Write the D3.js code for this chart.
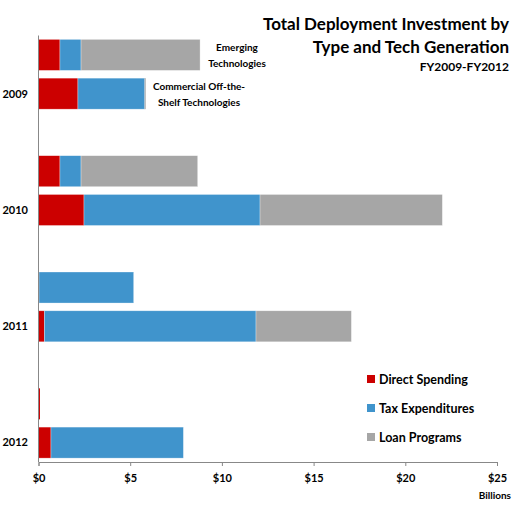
<!DOCTYPE html>
<html>
<head>
<meta charset="utf-8">
<script src="https://cdn.jsdelivr.net/npm/d3@7"></script>
<style>
  body { margin: 0; background: #fff; }
  text { font-family: Lato, "Open Sans", sans-serif; font-weight: bold; fill: #000; }
</style>
</head>
<body>
<div id="chart"></div>
<script>
// rows of the chart, top to bottom (blank rows separate the years)
const rows = ["2009E", "2009C", "gap1", "2010E", "2010C", "gap2", "2011E", "2011C", "gap3", "2012E", "2012C"];
const yearLabels = [["2009C", "2009"], ["2010C", "2010"], ["2011C", "2011"], ["2012C", "2012"]];
const seriesNames = ["Direct Spending", "Tax Expenditures", "Loan Programs"];
const seriesColors = ["#CC0000", "#4094CC", "#A6A6A6"];

// values in billions, one per bar row
const directSpending  = [1.17, 2.15, 1.17, 2.48, 0.03, 0.32, 0.08, 0.68];
const taxExpenditures = [1.15, 3.64, 1.15, 9.60, 5.16, 11.54, 0, 7.22];
const loanPrograms    = [6.49, 0.04, 6.36, 9.94, 0, 5.20, 0, 0];
const barRows = ["2009E", "2009C", "2010E", "2010C", "2011E", "2011C", "2012E", "2012C"];

const xTicks = [0, 5, 10, 15, 20, 25];

const width = 520, height = 511;
const x0 = 38.5, x1 = 497, yTop = 35.5, yBottom = 462;

const svg = d3.select("#chart").append("svg")
    .attr("width", width)
    .attr("height", height);

const x = d3.scaleLinear().domain([0, 25]).range([x0, x1]);
const y = d3.scaleBand().domain(rows).range([yTop, yBottom])
    .paddingInner(0.2).paddingOuter(0.1);

// build stacked data
const table = barRows.map((r, i) => ({
    row: r,
    "Direct Spending": directSpending[i],
    "Tax Expenditures": taxExpenditures[i],
    "Loan Programs": loanPrograms[i]
}));
const stacked = d3.stack().keys(seriesNames)(table);

svg.append("g")
    .selectAll("g")
    .data(stacked)
    .enter().append("g")
    .attr("fill", (d, i) => seriesColors[i])
    .selectAll("rect")
    .data(d => d.filter(s => s[1] - s[0] > 0))
    .enter().append("rect")
    .attr("x", d => x(d[0]))
    .attr("y", d => y(d.data.row))
    .attr("width", d => Math.max(1, x(d[1]) - x(d[0])))
    .attr("height", y.bandwidth())
    .attr("stroke", d => (x(d[1]) - x(d[0]) > 3 ? "#fff" : "none"))
    .attr("stroke-opacity", 0.5)
    .attr("stroke-width", 0.6);

// x axis
const xAxis = svg.append("g")
    .attr("transform", `translate(0,${yBottom})`)
    .call(d3.axisBottom(x).tickValues(xTicks).tickSize(4).tickFormat(d => "$" + d));
xAxis.select(".domain").attr("stroke", "#888");
xAxis.selectAll(".tick line").attr("stroke", "#888");
xAxis.selectAll(".tick text")
    .attr("font-size", 11)
    .attr("font-family", "Lato, sans-serif")
    .attr("font-weight", "bold")
    .attr("fill", "#000")
    .attr("dy", "1.2em");

// y axis line
svg.append("line")
    .attr("x1", x0).attr("x2", x0)
    .attr("y1", yTop).attr("y2", yBottom)
    .attr("stroke", "#888");

// year labels
svg.append("g")
    .selectAll("text")
    .data(yearLabels)
    .enter().append("text")
    .attr("x", 28)
    .attr("y", d => y(d[0]) + y.bandwidth() / 2)
    .attr("dy", "0.35em")
    .attr("text-anchor", "end")
    .attr("font-size", 11)
    .text(d => d[1]);

// bar annotations
const notes = [
    { row: "2009E", lines: ["Emerging", "Technologies"], cx: 237 },
    { row: "2009C", lines: ["Commercial Off-the-", "Shelf Technologies"], cx: 199 }
];
notes.forEach(n => {
    const t = svg.append("text")
        .attr("x", n.cx)
        .attr("y", y(n.row) + y.bandwidth() / 2 - 4)
        .attr("text-anchor", "middle")
        .attr("font-size", 10);
    n.lines.forEach((l, i) => {
        t.append("tspan").attr("x", n.cx).attr("dy", i === 0 ? 0 : 16.5).text(l);
    });
});

// title
const title = svg.append("text")
    .attr("text-anchor", "end")
    .attr("font-size", 17);
title.append("tspan").attr("x", 509).attr("y", 30).text("Total Deployment Investment by");
title.append("tspan").attr("x", 509).attr("y", 53).text("Type and Tech Generation");
svg.append("text")
    .attr("x", 509).attr("y", 71)
    .attr("text-anchor", "end")
    .attr("font-size", 12)
    .text("FY2009-FY2012");

// units
svg.append("text")
    .attr("x", 511).attr("y", 499)
    .attr("text-anchor", "end")
    .attr("font-size", 10)
    .text("Billions");

// legend
const legend = svg.append("g")
    .selectAll("g")
    .data(seriesNames)
    .enter().append("g")
    .attr("transform", (d, i) => `translate(367,${375 + i * 29})`);
legend.append("rect")
    .attr("width", 8).attr("height", 8)
    .attr("fill", (d, i) => seriesColors[i]);
legend.append("text")
    .attr("x", 12).attr("y", 9)
    .attr("font-size", 12.5)
    .text(d => d);
</script>
</body>
</html>
